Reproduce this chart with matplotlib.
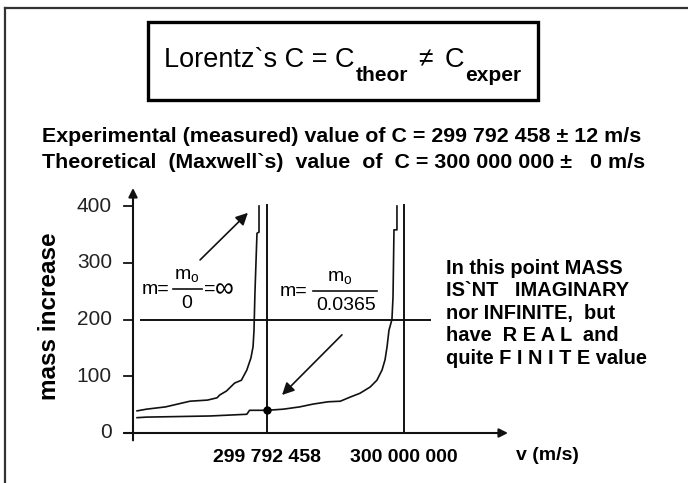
import matplotlib
matplotlib.use('Agg')
import matplotlib.pyplot as plt
from matplotlib import font_manager
from matplotlib.patches import Rectangle
from matplotlib.lines import Line2D

plt.rcParams['font.family'] = ['Liberation Sans', 'DejaVu Sans']
installed = {f.name for f in font_manager.fontManager.ttflist}
has_narrow = 'Liberation Sans Narrow' in installed

# curves (x: 0 = y axis, 2.0 = 300 000 000 line)
curve1_x = [0.03, 0.10, 0.24, 0.33, 0.42, 0.55, 0.62, 0.64, 0.69, 0.75, 0.80,
            0.84, 0.87, 0.886, 0.893, 0.900, 0.915, 0.930, 0.930]
curve1_y = [39, 42, 46, 51, 56, 58, 62, 67, 74, 88, 93,
            111, 132, 152, 181, 247, 352, 354, 400]
curve2_x = [0.03, 0.10, 0.57, 0.84, 0.86, 0.99, 1.11, 1.23, 1.33, 1.44, 1.53,
            1.60, 1.675, 1.75, 1.80, 1.838, 1.86, 1.875, 1.889, 1.911, 1.919,
            1.926, 1.948, 1.948]
curve2_y = [27, 28, 30, 33, 40, 40, 42, 46, 51, 55, 56,
            63, 70, 81, 93, 111, 129, 152, 181, 200, 240,
            358, 358, 400]
point_x, point_y = 0.99, 40

y_ticks = [0, 100, 200, 300, 400]
x_tick_pos = [0.99, 2.0]
x_tick_labels = ['299 792 458', '300 000 000']
level = 200

line_exp = 'Experimental (measured) value of C = 299 792 458 \u00b1 12 m/s'
line_theo = 'Theoretical  (Maxwell`s)  value  of  C = 300 000 000 \u00b1   0 m/s'
note_lines = ['In this point MASS',
              'IS`NT   IMAGINARY',
              'nor INFINITE,  but',
              'have  R E A L  and',
              'quite F I N I T E value']

W, H = 688, 483


def fx(x):
    return x / W


def fy(y):
    return 1 - y / H


fig = plt.figure(figsize=(6.88, 4.83), dpi=100)
fig.patch.set_facecolor('white')

# outer frame (top and left edges visible)
fig.add_artist(Line2D([fx(5), fx(688)], [fy(8), fy(8)], color='#333333', lw=1.6))
fig.add_artist(Line2D([fx(5), fx(5)], [fy(8), fy(483)], color='#333333', lw=1.6))

# title box
fig.add_artist(Rectangle((fx(148), fy(100)), fx(538) - fx(148), fy(22) - fy(100),
                         fill=False, lw=2.4, ec='black'))

renderer = fig.canvas.get_renderer()


def chain(pieces, x, y):
    for txt, size, weight, dy, gap, fam in pieces:
        t = fig.text(fx(x), fy(y + dy), txt, fontsize=size, fontweight=weight,
                     va='baseline', ha='left', family=fam)
        bb = t.get_window_extent(renderer)
        x = bb.x1 + gap


if has_narrow:
    tfam, tsize = ['Liberation Sans Narrow', 'DejaVu Sans'], 23
else:
    tfam, tsize = ['Liberation Sans', 'DejaVu Sans'], 19.5
sfam = ['Liberation Sans', 'DejaVu Sans']
chain([('Lorentz`s C = C', tsize, 'normal', 0, 1, tfam),
       ('theor', 15, 'bold', 14, 10, sfam),
       ('\u2260', 19, 'normal', -1, 12, sfam),
       ('C', tsize, 'normal', 0, 1, tfam),
       ('exper', 15, 'bold', 14, 0, sfam)], 164, 67)

fig.text(fx(42), fy(136), line_exp, fontsize=15.4, fontweight='bold', va='center')
fig.text(fx(42), fy(162), line_theo, fontsize=15.4, fontweight='bold', va='center')

# plotting area: y axis at x=133 px, x axis at y=433 px
ax = fig.add_axes([fx(133), fy(433), fx(508) - fx(133), fy(188) - fy(433)])
xmax = 375 / 135.5
ymax = 245 / 0.5675
ax.set_xlim(0, xmax)
ax.set_ylim(0, ymax)
ax.axis('off')

ax.annotate('', xy=(0, ymax), xytext=(0, -13),
            arrowprops=dict(arrowstyle='-|>', color='#111111', lw=1.5,
                            mutation_scale=13, shrinkA=0, shrinkB=0),
            annotation_clip=False)
ax.annotate('', xy=(xmax, 0), xytext=(-0.066, 0),
            arrowprops=dict(arrowstyle='-|>', color='#111111', lw=1.5,
                            mutation_scale=13, shrinkA=0, shrinkB=0),
            annotation_clip=False)

for v in y_ticks:
    ax.plot([-0.066, 0], [v, v], color='#111111', lw=1.3, clip_on=False)
    ax.text(-0.155, v, str(v), ha='right', va='center', fontsize=15,
            color='#222222')

for xp, lab in zip(x_tick_pos, x_tick_labels):
    ax.plot([xp, xp], [0, 402], color='#111111', lw=1.4, clip_on=False)
    ax.text(xp, -44, lab, ha='center', va='center', fontsize=14,
            fontweight='bold')

ax.text(2.83, -39, 'v (m/s)', ha='left', va='center', fontsize=14,
        fontweight='bold')

ax.plot([0.059, 2.19], [level, level], color='#111111', lw=1.4)

ax.plot(curve1_x, curve1_y, color='#111111', lw=1.2, clip_on=False)
ax.plot(curve2_x, curve2_y, color='#111111', lw=1.2, clip_on=False)
ax.plot(point_x, point_y, 'o', color='black', ms=5)

# arrows pointing to the curves
ax.annotate('', xy=(0.848, 388), xytext=(0.495, 305),
            arrowprops=dict(arrowstyle='-|>', color='#111111', lw=1.2,
                            mutation_scale=18, shrinkA=0, shrinkB=0))
ax.annotate('', xy=(1.10, 67), xytext=(1.542, 173),
            arrowprops=dict(arrowstyle='-|>', color='#111111', lw=1.2,
                            mutation_scale=18, shrinkA=0, shrinkB=0))

# fractions m = m0/0 = inf and m = m0/0.0365
fs = 14
fig.text(fx(142), fy(289), 'm=', fontsize=fs, va='center', ha='left')
fig.add_artist(Line2D([fx(173), fx(202)], [fy(289), fy(289)], color='#111111', lw=1.2))
fig.text(fx(187), fy(276), r'$\mathregular{m_o}$', fontsize=fs, va='center', ha='center')
fig.text(fx(187), fy(303), '0', fontsize=fs, va='center', ha='center')
fig.text(fx(204), fy(289), '=', fontsize=fs, va='center', ha='left')
fig.text(fx(215), fy(289), '\u221e', fontsize=19, va='center', ha='left')

fig.text(fx(280), fy(291), 'm=', fontsize=fs, va='center', ha='left')
fig.add_artist(Line2D([fx(313), fx(377)], [fy(291), fy(291)], color='#111111', lw=1.2))
fig.text(fx(340), fy(278), r'$\mathregular{m_o}$', fontsize=fs, va='center', ha='center')
fig.text(fx(346), fy(305), '0.0365', fontsize=fs, va='center', ha='center')

fig.text(fx(50), fy(316), 'mass increase', rotation=90, fontsize=17.5,
         fontweight='bold', ha='center', va='center')

for i, s in enumerate(note_lines):
    fig.text(fx(446), fy(268 + 22.6 * i), s, fontsize=14.4, fontweight='bold',
             va='center', ha='left')

fig.savefig('out.png', dpi=100)
